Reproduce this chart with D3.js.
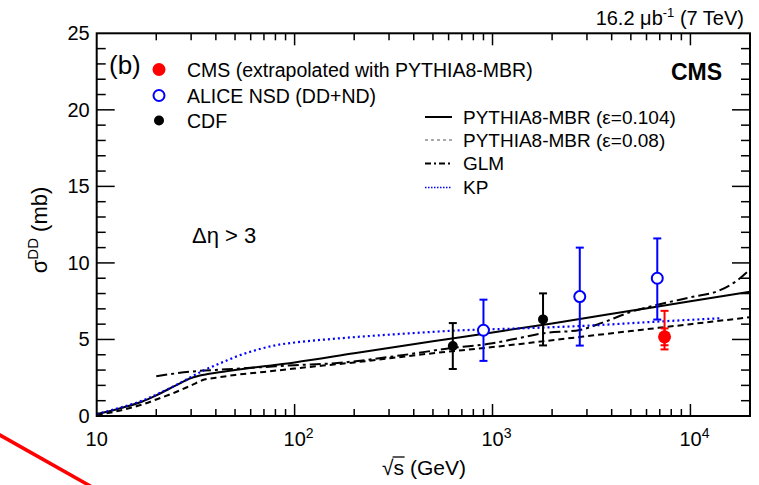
<!DOCTYPE html>
<html><head><meta charset="utf-8">
<script src="https://cdn.jsdelivr.net/npm/d3@7"></script>
<style>
body{margin:0;background:#fff;}
svg text{font-family:"Liberation Sans",Arial,Helvetica,sans-serif;}
</style></head>
<body><svg id="c" width="759" height="485"></svg>
<script>
// ---- data ----
const xTicks = [10, 100, 1000, 10000];
const xTickExp = ["", "2", "3", "4"];
const yTicks = [0, 5, 10, 15, 20, 25];

const cmsX = [7400], cmsY = [5.17], cmsErrUp = [1.70], cmsErrDn = [0.82], cmsSystUp = [0.55], cmsSystDn = [0.55];
const aliceX = [900, 2760, 6800], aliceY = [5.6, 7.8, 9.0], aliceErrUp = [2.0, 3.2, 2.6], aliceErrDn = [2.0, 3.2, 2.7];
const cdfX = [630, 1800], cdfY = [4.57, 6.31], cdfErr = [1.5, 1.7];

const pyS   = [10, 12, 14, 17, 20, 25, 30, 35, 40, 50, 70, 100, 200, 500, 1000, 2000, 5000, 10000, 20000];
const py104 = [0.13, 0.36, 0.6, 0.95, 1.35, 1.98, 2.48, 2.7, 2.82, 3.0, 3.25, 3.5, 4.1, 4.88, 5.46, 6.05, 6.87, 7.49, 8.12];
const py08  = [0.07, 0.25, 0.45, 0.75, 1.08, 1.55, 2.0, 2.38, 2.5, 2.68, 2.88, 3.1, 3.5, 4.1, 4.5, 4.95, 5.55, 6.0, 6.45];
const glmS  = [20, 30, 45, 70, 100, 160, 340, 630, 1000, 1370, 1800, 2760, 3600, 5000, 7000, 10000, 14000, 17000, 20000];
const glmY  = [2.6, 2.9, 3.05, 3.2, 3.32, 3.45, 3.95, 4.45, 4.75, 5.1, 5.4, 5.62, 6.1, 6.8, 7.3, 7.75, 8.2, 8.8, 9.57];
const kpS   = [10, 12, 14, 17, 20, 25, 30, 35, 44, 50, 64, 80, 100, 160, 380, 700, 1370, 3000, 6700, 14000];
const kpY   = [0.13, 0.4, 0.65, 1.0, 1.4, 2.0, 2.55, 3.0, 3.55, 3.85, 4.31, 4.62, 4.8, 5.05, 5.4, 5.6, 5.72, 5.9, 6.16, 6.38];

// ---- layout ----
const svg = d3.select("#c");
const L = 96.7, R = 750, T = 33.3, B = 416;
const x = d3.scaleLog().domain([10, 20000]).range([L, R]);
const y = d3.scaleLinear().domain([0, 25]).range([B, T]);

// curves
const line = d3.line().x(d => x(d[0])).y(d => y(d[1])).curve(d3.curveMonotoneX);
function curve(xs, ys, opts){
  svg.append("path").datum(xs.map((v,i)=>[v, ys[i]])).attr("d", line)
    .attr("fill","none").attr("stroke",opts.c).attr("stroke-width",opts.w)
    .attr("stroke-dasharray",opts.d||null);
}
curve(pyS, py08, {c:"#000", w:2, d:"6,4"});
curve(glmS, glmY, {c:"#000", w:2, d:"11,4,3,4"});
curve(pyS, py104, {c:"#000", w:2});
curve(kpS, kpY, {c:"#0000ff", w:2.2, d:"2,3"});

// frame
svg.append("rect").attr("x",L).attr("y",T).attr("width",R-L).attr("height",B-T)
  .attr("fill","none").attr("stroke","#000").attr("stroke-width",2);

// y ticks (inside, both sides)
const g = svg.append("g").attr("stroke","#000").attr("stroke-width",1.5);
d3.range(0, 26, 1).forEach(v => {
  const major = v % 5 === 0, len = major ? 18 : 9;
  if (v===0 || v===25) return;
  g.append("line").attr("x1",L).attr("x2",L+len).attr("y1",y(v)).attr("y2",y(v));
  g.append("line").attr("x1",R).attr("x2",R-len).attr("y1",y(v)).attr("y2",y(v));
});
// x ticks (inside, top and bottom)
for (let e = 1; e <= 4; e++) {
  for (let m = 1; m <= 9; m++) {
    const v = m * Math.pow(10, e);
    if (v <= 10 || v >= 20000) continue;
    const major = m === 1, len = major ? 12 : 7;
    g.append("line").attr("x1",x(v)).attr("x2",x(v)).attr("y1",B).attr("y2",B-len);
    g.append("line").attr("x1",x(v)).attr("x2",x(v)).attr("y1",T).attr("y2",T+len);
  }
}

// y tick labels
yTicks.forEach(v => {
  svg.append("text").attr("x",L-7).attr("y",y(v)+7).attr("text-anchor","end")
    .attr("font-size",20).text(v);
});
// x tick labels
xTicks.forEach((v,i) => {
  const t = svg.append("text").attr("x",x(v)+(xTickExp[i]?4:0)).attr("y",446).attr("text-anchor","middle").attr("font-size",20);
  t.append("tspan").text("10");
  if (xTickExp[i]) t.append("tspan").attr("dy",-8).attr("font-size",14).text(xTickExp[i]);
});

// axis titles
const xt = svg.append("text").attr("x",424).attr("y",475).attr("text-anchor","middle").attr("font-size",21);
xt.append("tspan").text("\u221A");
const sT = xt.append("tspan").text("s");
xt.append("tspan").text(" (GeV)");
{
  const bb = sT.node().getBBox ? null : null;
  const n = xt.node();
  const start = n.getStartPositionOfChar(1), end = n.getEndPositionOfChar(1);
  svg.append("line").attr("x1",start.x-1).attr("x2",end.x+0.5).attr("y1",457).attr("y2",457)
    .attr("stroke","#000").attr("stroke-width",1.3);
}
const yt = svg.append("text").attr("transform","translate(47,230) rotate(-90)").attr("text-anchor","middle").attr("font-size",22);
yt.append("tspan").text("\u03C3");
yt.append("tspan").attr("dy",-9).attr("font-size",15).text("DD");
yt.append("tspan").attr("dy",9).text(" (mb)");

// header texts
svg.append("text").attr("x",744).attr("y",25).attr("text-anchor","end").attr("font-size",20)
  .html('16.2 \u03BCb<tspan dy="-8" font-size="13">-1</tspan><tspan dy="8"> (7 TeV)</tspan>');
svg.append("text").attr("x",722).attr("y",80).attr("text-anchor","end").attr("font-size",23).attr("font-weight","bold").text("CMS");
svg.append("text").attr("x",109).attr("y",74).attr("font-size",26).text("(b)");
svg.append("text").attr("x",192).attr("y",243).attr("font-size",22).text("\u0394\u03B7 > 3");

// error bars + points
function errbar(xv, yv, up, dn, col, w, cap){
  const px = x(xv);
  svg.append("line").attr("x1",px).attr("x2",px).attr("y1",y(yv+up)).attr("y2",y(yv-dn)).attr("stroke",col).attr("stroke-width",w);
  [yv+up, yv-dn].forEach(v => svg.append("line").attr("x1",px-cap).attr("x2",px+cap).attr("y1",y(v)).attr("y2",y(v)).attr("stroke",col).attr("stroke-width",w));
}
cdfX.forEach((v,i) => {
  errbar(v, cdfY[i], cdfErr[i], cdfErr[i], "#000", 2, 4);
  svg.append("circle").attr("cx",x(v)).attr("cy",y(cdfY[i])).attr("r",5).attr("fill","#000");
});
aliceX.forEach((v,i) => {
  errbar(v, aliceY[i], aliceErrUp[i], aliceErrDn[i], "#0000ff", 2, 4);
  svg.append("circle").attr("cx",x(v)).attr("cy",y(aliceY[i])).attr("r",5.5).attr("fill","#fff").attr("stroke","#0000ff").attr("stroke-width",2);
});
cmsX.forEach((v,i) => {
  errbar(v, cmsY[i], cmsErrUp[i], cmsErrDn[i], "#ff0000", 2, 4);
  errbar(v, cmsY[i], cmsSystUp[i], cmsSystDn[i], "#ff0000", 2, 4);
  svg.append("circle").attr("cx",x(v)).attr("cy",y(cmsY[i])).attr("r",6.5).attr("fill","#ff0000");
});

// legend 1 (markers)
const leg1 = [
  {t:"CMS (extrapolated with PYTHIA8-MBR)", k:"cms"},
  {t:"ALICE NSD (DD+ND)", k:"alice"},
  {t:"CDF", k:"cdf"}];
const leg1Y = [69.5, 95.5, 120.5];
leg1.forEach((d,i) => {
  const cy = leg1Y[i];
  if (d.k==="cms") svg.append("circle").attr("cx",159).attr("cy",cy).attr("r",6.5).attr("fill","#ff0000");
  if (d.k==="alice") svg.append("circle").attr("cx",159).attr("cy",cy).attr("r",5.5).attr("fill","#fff").attr("stroke","#0000ff").attr("stroke-width",2);
  if (d.k==="cdf") svg.append("circle").attr("cx",159).attr("cy",cy).attr("r",5).attr("fill","#000");
  svg.append("text").attr("x",187).attr("y",cy+7).attr("font-size",19.5).text(d.t);
});

// legend 2 (lines)
const leg2 = [
  {t:"PYTHIA8-MBR (\u03B5=0.104)", c:"#000", d:null, w:2},
  {t:"PYTHIA8-MBR (\u03B5=0.08)", c:"#555", d:"3,3", w:1},
  {t:"GLM", c:"#000", d:"6,3,2,3", w:2},
  {t:"KP", c:"#0000ff", d:"1.5,1.5", w:1.5}];
const leg2Y = [117, 140, 163.5, 187.5];
leg2.forEach((d,i) => {
  const ly = leg2Y[i];
  svg.append("line").attr("x1",425).attr("x2",452).attr("y1",ly).attr("y2",ly)
    .attr("stroke",d.c).attr("stroke-width",d.w).attr("stroke-dasharray",d.d);
  svg.append("text").attr("x",463).attr("y",ly+6.5).attr("font-size",19).text(d.t);
});

// stray red annotation stroke at bottom-left
svg.append("line").attr("x1",-2).attr("y1",434).attr("x2",92).attr("y2",487)
  .attr("stroke","#ff0000").attr("stroke-width",3.5);
</script></body></html>
